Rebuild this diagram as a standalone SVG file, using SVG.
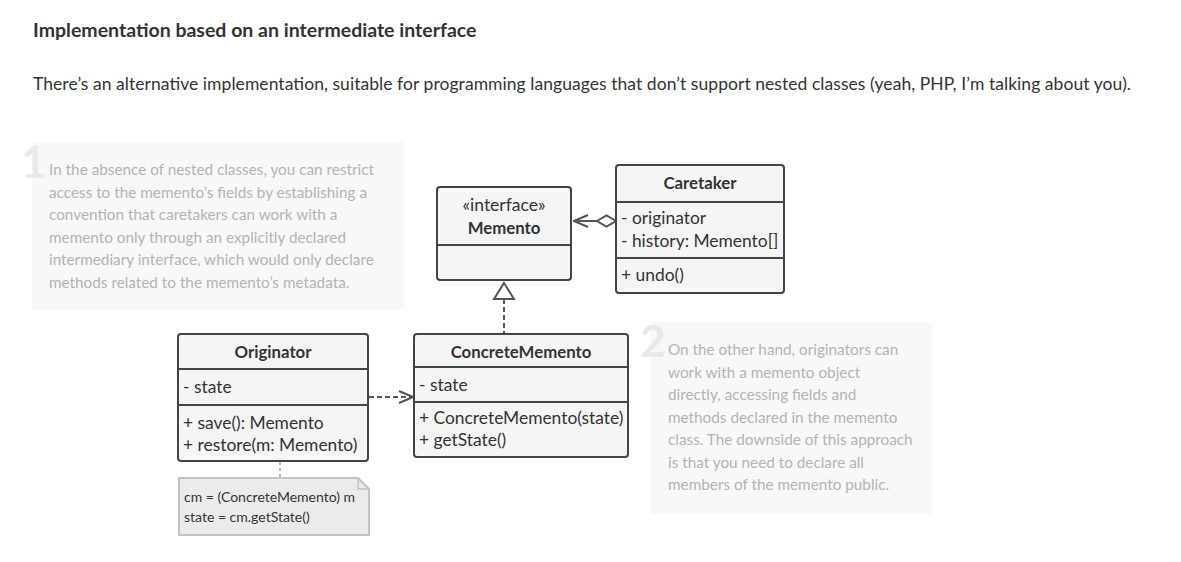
<svg xmlns="http://www.w3.org/2000/svg" width="1181" height="562" viewBox="0 0 1181 562">
<defs>
<style>
text{font-family:Lato,"Liberation Sans",sans-serif;}
.h{font-size:19.5px;font-weight:bold;fill:#333;}
.p{font-size:17.5px;fill:#333;}
.n{font-size:15.3px;fill:#b3b3b3;}
.big{font-size:44px;font-weight:bold;fill:#e9e9e9;}
.nb{fill:#f8f8f8;}
.box{fill:#f5f5f5;stroke:#444;stroke-width:2;}
.div{stroke:#444;stroke-width:2;}
.t{font-size:16.8px;font-weight:bold;fill:#333;text-anchor:middle;}
.m{font-size:17.4px;fill:#333;}
.st{font-size:17.5px;fill:#333;text-anchor:middle;}
.note{fill:#ebebeb;stroke:#c2c2c2;stroke-width:2;}
.nt{font-size:14px;fill:#333;}
.c{fill:none;stroke:#555;stroke-width:2;}
.d{stroke-dasharray:5,3;}
</style>
<marker id="open" markerWidth="16" markerHeight="14" refX="15" refY="7" orient="auto" markerUnits="userSpaceOnUse">
<path d="M1,1 L15,7 L1,13" fill="none" stroke="#555" stroke-width="2"/>
</marker>
</defs>
<rect width="1181" height="562" fill="#fff"/>
<g id="heading">
<text class="h" x="33" y="37">Implementation based on an intermediate interface</text>
<text class="p" x="33" y="90" textLength="1098" lengthAdjust="spacing">There’s an alternative implementation, suitable for programming languages that don’t support nested classes (yeah, PHP, I’m talking about you).</text>
</g>
<g id="note1">
<rect class="nb" x="32" y="142" width="372" height="168"/>
<text class="big" x="21" y="178">1</text>
<text class="n" x="49" y="175">In the absence of nested classes, you can restrict</text>
<text class="n" x="49" y="198">access to the memento’s fields by establishing a</text>
<text class="n" x="49" y="220">convention that caretakers can work with a</text>
<text class="n" x="49" y="243">memento only through an explicitly declared</text>
<text class="n" x="49" y="265">intermediary interface, which would only declare</text>
<text class="n" x="49" y="288">methods related to the memento’s metadata.</text>
</g>
<g id="note2">
<rect class="nb" x="651" y="322" width="281" height="192"/>
<text class="big" x="640" y="357">2</text>
<text class="n" x="668" y="355">On the other hand, originators can</text>
<text class="n" x="668" y="378">work with a memento object</text>
<text class="n" x="668" y="400">directly, accessing fields and</text>
<text class="n" x="668" y="423">methods declared in the memento</text>
<text class="n" x="668" y="445">class. The downside of this approach</text>
<text class="n" x="668" y="468">is that you need to declare all</text>
<text class="n" x="668" y="490">members of the memento public.</text>
</g>
<g id="connectors">
<line class="c" x1="597" y1="221" x2="574" y2="221" marker-end="url(#open)"/>
<path d="M597,221 L606.5,215.5 L616,221 L606.5,226.5 Z" fill="#fff" stroke="#555" stroke-width="2"/>
<line class="c d" x1="504" y1="299" x2="504" y2="333"/>
<path d="M504,283 L514,299 L494,299 Z" fill="#fff" stroke="#555" stroke-width="2"/>
<line class="c d" x1="369" y1="397" x2="413" y2="397" marker-end="url(#open)"/>
<line x1="280" y1="462" x2="280" y2="477" stroke="#bbb" stroke-width="2" stroke-dasharray="3,3"/>
</g>
<g id="memento">
<rect class="box" x="437" y="187" width="134" height="93" rx="3"/>
<line class="div" x1="437" y1="245" x2="571" y2="245"/>
<text class="st" x="504" y="211">«interface»</text>
<text class="t" x="504" y="234">Memento</text>
</g>
<g id="caretaker">
<rect class="box" x="616" y="165" width="168" height="128" rx="3"/>
<line class="div" x1="616" y1="202" x2="784" y2="202"/>
<line class="div" x1="616" y1="258" x2="784" y2="258"/>
<text class="t" x="700" y="189">Caretaker</text>
<text class="m" x="621" y="224">- originator</text>
<text class="m" x="621" y="247">- history: Memento[]</text>
<text class="m" x="621" y="281">+ undo()</text>
</g>
<g id="originator">
<rect class="box" x="178" y="334" width="190" height="127" rx="3"/>
<line class="div" x1="178" y1="369" x2="368" y2="369"/>
<line class="div" x1="178" y1="405" x2="368" y2="405"/>
<text class="t" x="273" y="358">Originator</text>
<text class="m" x="183" y="393">- state</text>
<text class="m" x="183" y="429">+ save(): Memento</text>
<text class="m" x="183" y="451">+ restore(m: Memento)</text>
</g>
<g id="concretememento">
<rect class="box" x="414" y="334" width="214" height="123" rx="3"/>
<line class="div" x1="414" y1="367" x2="628" y2="367"/>
<line class="div" x1="414" y1="402" x2="628" y2="402"/>
<text class="t" x="521" y="358">ConcreteMemento</text>
<text class="m" x="419" y="391">- state</text>
<text class="m" x="419" y="424">+ ConcreteMemento(state)</text>
<text class="m" x="419" y="446">+ getState()</text>
</g>
<g id="codenote">
<path class="note" d="M179,478 L358,478 L369,489 L369,535 L179,535 Z"/>
<path d="M358,478 L358,489 L369,489" fill="none" stroke="#c2c2c2" stroke-width="1.5"/>
<text class="nt" x="184" y="502">cm = (ConcreteMemento) m</text>
<text class="nt" x="184" y="522">state = cm.getState()</text>
</g>
</svg>
